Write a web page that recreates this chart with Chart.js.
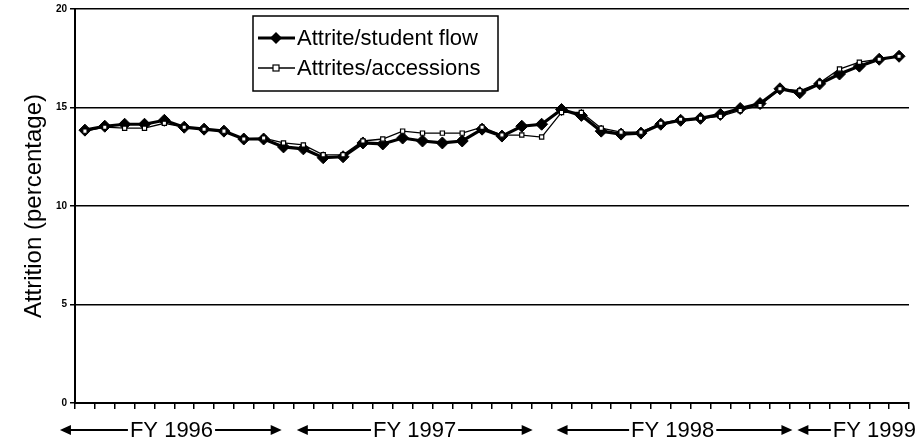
<!DOCTYPE html>
<html>
<head>
<meta charset="utf-8">
<script src="https://cdn.jsdelivr.net/npm/chart.js@4"></script>
<style>
html,body{margin:0;padding:0;background:#fff;}
#c{display:block;}
</style>
</head>
<body>
<canvas id="c" width="924" height="444"></canvas>
<script>
// ---- data ----
const months = ['Oct 1995','Nov 1995','Dec 1995','Jan 1996','Feb 1996','Mar 1996','Apr 1996','May 1996','Jun 1996','Jul 1996','Aug 1996','Sep 1996',
  'Oct 1996','Nov 1996','Dec 1996','Jan 1997','Feb 1997','Mar 1997','Apr 1997','May 1997','Jun 1997','Jul 1997','Aug 1997','Sep 1997',
  'Oct 1997','Nov 1997','Dec 1997','Jan 1998','Feb 1998','Mar 1998','Apr 1998','May 1998','Jun 1998','Jul 1998','Aug 1998','Sep 1998',
  'Oct 1998','Nov 1998','Dec 1998','Jan 1999','Feb 1999','Mar 1999'];
const attriteStudentFlow = [13.85,14.05,14.15,14.15,14.35,14.0,13.9,13.8,13.4,13.4,13.0,12.9,
  12.45,12.5,13.2,13.15,13.45,13.3,13.2,13.3,13.9,13.55,14.05,14.15,
  14.9,14.6,13.8,13.65,13.7,14.15,14.35,14.45,14.65,14.95,15.2,15.95,
  15.75,16.2,16.7,17.1,17.45,17.6];
const attritesAccessions = [13.8,14.0,13.95,13.95,14.2,14.0,13.9,13.8,13.4,13.45,13.2,13.1,
  12.6,12.6,13.3,13.4,13.8,13.7,13.7,13.7,14.0,13.6,13.6,13.5,
  14.75,14.75,13.95,13.75,13.75,14.2,14.4,14.45,14.55,14.85,15.1,15.95,
  15.85,16.25,16.95,17.3,17.45,17.6];
const seriesNames = ['Attrite/student flow','Attrites/accessions'];
const yTicks = [0,5,10,15,20];
const fyLabels = ['FY 1996','FY 1997','FY 1998','FY 1999'];
const fyArrowStart = [-1.26, 10.67, 23.75, 35.88];   // in category-index units
const fyArrowEnd = [9.91, 22.55, 35.63, null];
const fyTextCenter = [4.36, 16.6, 29.6, 39.76];

const FONT = '"Liberation Sans", Arial, sans-serif';

function arrowHead(ctx, x, y, dir){
  ctx.beginPath();
  ctx.moveTo(x, y);
  ctx.lineTo(x - dir*11, y - 5);
  ctx.lineTo(x - dir*11, y + 5);
  ctx.closePath();
  ctx.fill();
}

const fyPlugin = {
  id: 'fyLabels',
  afterDraw(chart){
    const ctx = chart.ctx, xs = chart.scales.x;
    const y = chart.chartArea.bottom + 27;
    ctx.save();
    ctx.fillStyle = '#000'; ctx.strokeStyle = '#000'; ctx.lineWidth = 2;
    ctx.font = '22px ' + FONT;
    ctx.textAlign = 'center'; ctx.textBaseline = 'middle';
    fyLabels.forEach((lab, i) => {
      const cx = xs.getPixelForValue(fyTextCenter[i]);
      const w = ctx.measureText(lab).width;
      ctx.fillText(lab, cx, y + 1);
      const x0 = xs.getPixelForValue(fyArrowStart[i]);
      ctx.beginPath(); ctx.moveTo(x0 + 4, y); ctx.lineTo(cx - w/2 - 2, y); ctx.stroke();
      arrowHead(ctx, x0, y, -1);
      if (fyArrowEnd[i] !== null){
        const x1 = xs.getPixelForValue(fyArrowEnd[i]);
        ctx.beginPath(); ctx.moveTo(cx + w/2 + 2, y); ctx.lineTo(x1 - 4, y); ctx.stroke();
        arrowHead(ctx, x1, y, 1);
      }
    });
    ctx.restore();
  }
};

const legendPlugin = {
  id: 'boxLegend',
  afterDraw(chart){
    const ctx = chart.ctx, ca = chart.chartArea;
    const bx = ca.left + 178, by = ca.top + 7, bw = 245, bh = 75;
    ctx.save();
    ctx.fillStyle = '#fff';
    ctx.fillRect(bx, by, bw, bh);
    ctx.strokeStyle = '#000'; ctx.lineWidth = 1.5;
    ctx.strokeRect(bx, by, bw, bh);
    ctx.font = '22px ' + FONT;
    ctx.textAlign = 'left'; ctx.textBaseline = 'middle';
    chart.data.datasets.forEach((ds, i) => {
      const yy = by + 22 + i*30;
      ctx.strokeStyle = '#000';
      ctx.lineWidth = ds.borderWidth;
      ctx.beginPath(); ctx.moveTo(bx + 5, yy); ctx.lineTo(bx + 42, yy); ctx.stroke();
      const mx = bx + 23;
      if (ds.pointStyle === 'rectRot'){
        ctx.fillStyle = '#000';
        ctx.beginPath();
        ctx.moveTo(mx, yy - 6); ctx.lineTo(mx + 6, yy); ctx.lineTo(mx, yy + 6); ctx.lineTo(mx - 6, yy);
        ctx.closePath(); ctx.fill();
      } else {
        ctx.fillStyle = '#fff'; ctx.lineWidth = 1.2;
        ctx.fillRect(mx - 3, yy - 3, 6, 6); ctx.strokeRect(mx - 3, yy - 3, 6, 6);
      }
      ctx.fillStyle = '#000';
      ctx.fillText(ds.label, bx + 44, yy + 1);
    });
    ctx.restore();
  }
};

new Chart(document.getElementById('c'), {
  type: 'line',
  data: {
    labels: months,
    datasets: [
      { label: seriesNames[0], data: attriteStudentFlow, borderColor: '#000', borderWidth: 3.2,
        pointStyle: 'rectRot', pointRadius: 6, pointBackgroundColor: '#000', pointBorderColor: '#000',
        pointBorderWidth: 1, tension: 0, order: 1 },
      { label: seriesNames[1], data: attritesAccessions, borderColor: '#000', borderWidth: 1.3,
        pointStyle: 'rect', pointRadius: 3, pointBackgroundColor: '#fff', pointBorderColor: '#000',
        pointBorderWidth: 1.2, tension: 0, order: 0 }
    ]
  },
  options: {
    responsive: false,
    animation: false,
    devicePixelRatio: 1,
    layout: { padding: { left: 0, right: 15, top: 9, bottom: 0 } },
    plugins: { legend: { display: false }, tooltip: { enabled: false } },
    scales: {
      x: {
        type: 'category',
        offset: true,
        grid: { display: true, drawOnChartArea: false, drawTicks: true, tickLength: 6, color: '#000', lineWidth: 1.5, offset: true },
        border: { display: true, color: '#000', width: 2 },
        ticks: { autoSkip: false, maxRotation: 0, callback: () => '', font: { size: 1 } },
        afterFit(s){ s.height = 41; }
      },
      y: {
        min: 0, max: 20,
        afterBuildTicks(s){ s.ticks = yTicks.map(v => ({ value: v })); },
        grid: { color: '#000', lineWidth: 1.5, tickLength: 5 },
        border: { display: true, color: '#000', width: 2 },
        ticks: { color: '#000', padding: 3, font: { family: FONT, size: 10, weight: 'bold' } },
        title: { display: true, text: 'Attrition (percentage)', color: '#000', font: { family: FONT, size: 24 }, padding: { top: 20, bottom: 0 } },
        afterFit(s){ s.width = 75; }
      }
    }
  },
  plugins: [fyPlugin, legendPlugin]
});
</script>
</body>
</html>
